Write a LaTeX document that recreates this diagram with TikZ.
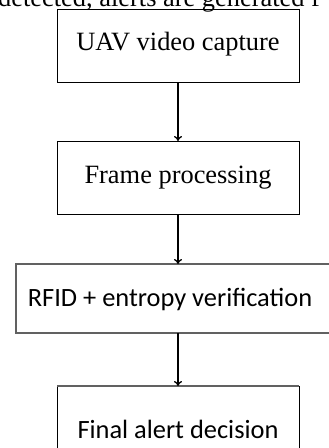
\documentclass[tikz,border=0pt]{standalone}
\usepackage{fontspec}
\setmainfont{Liberation Serif}
\newfontfamily\calfont{Carlito}
\usetikzlibrary{arrows.meta}
\begin{document}
\begin{tikzpicture}[x=1pt,y=-1pt,
  boxa/.style={draw=black,line width=1pt},
  boxb/.style={draw=black!62,line width=1.2pt},
  flow/.style={line width=1.3pt,-{To[length=5pt,width=8pt]}},
  lbl/.style={inner sep=0pt,anchor=base,font=\fontsize{26.4}{30}\selectfont}]
\useasboundingbox (0,0) rectangle (329,448);
\clip (0,0) rectangle (329,448);
\node[lbl,anchor=base west] (top) at (-2,6) {detected, alerts are generated f};
\path[boxa] (57,9) rectangle (299,82);
\coordinate (b1) at (178,82);
\node[lbl] (t1) at (178,50) {UAV video capture};
\path[boxa] (57,141) rectangle (299,214);
\coordinate (b2t) at (178,141);
\coordinate (b2) at (178,214);
\node[lbl] (t2) at (178,183) {Frame processing};
\path[boxb] (16,264) rectangle (400,333);
\coordinate (b3t) at (178,264);
\coordinate (b3) at (178,333);
\node[lbl,font=\calfont\fontsize{26.4}{30}\selectfont] (t3) at (170,306) {RFID + entropy verification};
\path[boxa] (57,386) rectangle (299,470);
\draw[draw=black!62,line width=1.2pt] (57,386) -- (299,386);
\coordinate (b4t) at (178,386);
\node[lbl,font=\calfont\fontsize{26.4}{30}\selectfont] (t4) at (178,438) {Final alert decision};
\draw[flow] (b1) -- (b2t);
\draw[flow] (b2) -- (b3t);
\draw[flow] (b3) -- (b4t);
\end{tikzpicture}
\end{document}
